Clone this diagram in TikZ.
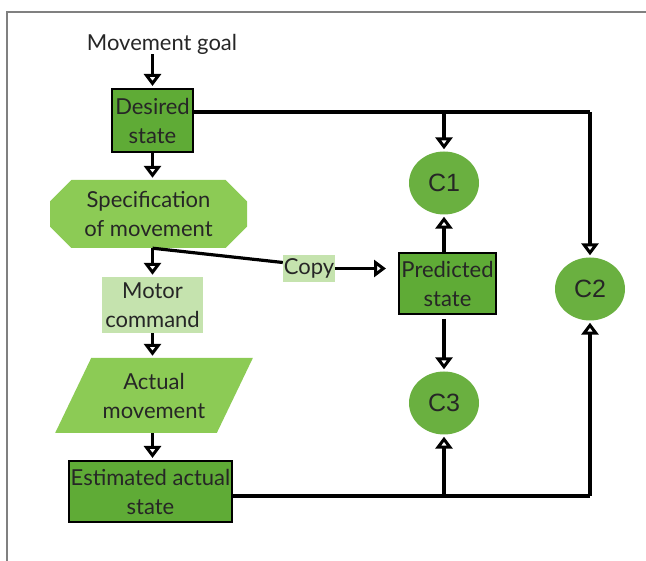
\documentclass[tikz,border=0pt]{standalone}
\usepackage{fontspec}
\setmainfont{Lato}
\newfontfamily\arialfont{Liberation Sans}
\usetikzlibrary{arrows.meta,shapes.geometric,shapes.misc}
\definecolor{darkgr}{HTML}{5FAB36}
\definecolor{circgr}{HTML}{6AB040}
\definecolor{midgr}{HTML}{8CCB55}
\definecolor{palegr}{HTML}{C5E3AE}
\begin{document}
\begin{tikzpicture}[x=1pt, y=-1pt,
    txt/.style={font=\fontsize{22}{29}\selectfont, align=center, inner sep=0pt, text=black!85},
    darkbox/.style={txt, draw, line width=2pt, fill=darkgr},
    circ/.style={ellipse, fill=circgr, minimum width=70pt, minimum height=63pt, inner sep=0pt,
      font=\arialfont\fontsize{25}{28}\selectfont, text=black!85},
    arr/.style={-{Triangle[open, width=17pt, length=12pt]}, line width=3.2pt, shorten >=2pt},
    wire/.style={line width=3.2pt}
  ]
  \useasboundingbox (0,0) rectangle (646,561);
  \draw[gray, line width=2.4pt] (7,561) -- (7,12) -- (646,12);

  \node[txt] (goal) at (162,44) {Movement goal};
  \node[darkbox, minimum width=81pt, minimum height=63pt] (desired) at (152.5,120.5) {Desired\\state};
  \node[txt, chamfered rectangle, chamfered rectangle xsep=18pt, fill=midgr,
    minimum width=197pt, minimum height=68pt] (spec) at (148.5,214) {Specification\\of movement};
  \node[txt, fill=palegr, minimum width=52pt, minimum height=27pt] (copy) at (309,268.5) {Copy};
  \node[txt, fill=palegr, minimum width=101pt, minimum height=56pt] (motor) at (152.5,305) {Motor\\command};
  \node[txt, trapezium, trapezium left angle=57, trapezium right angle=123, trapezium stretches=true,
    fill=midgr, minimum width=198pt, minimum height=75pt] (actual) at (154,395.5) {Actual\\movement};
  \node[darkbox, minimum width=163pt, minimum height=61pt] (est) at (150.5,491.5) {Estimated actual\\state};
  \node[darkbox, minimum width=97pt, minimum height=61pt] (pred) at (447.5,283.5) {Predicted\\state};
  \node[circ] (c1) at (444,183) {C1};
  \node[circ] (c2) at (590,289) {C2};
  \node[circ] (c3) at (444,403) {C3};

  \coordinate (tr) at (590,112);
  \coordinate (br) at (590,496);

  % main chain
  \draw[arr] (goal.south -| desired) -- (desired);
  \draw[arr] (desired) -- (desired |- spec.north);
  \draw[arr] (spec.south -| motor) -- (motor);
  \draw[arr] (motor) -- (actual.north -| motor);
  \draw[arr] (actual.south -| motor) -- (est.north -| motor);

  % efference copy
  \draw[wire] ([xshift=4pt]spec.south) -- ([yshift=6pt]copy.west);
  \draw[arr, shorten >=12pt] (copy) -- (copy -| pred.west);

  % comparators
  \draw[wire] (desired.east |- tr) -- (tr);
  \draw[arr] (c1 |- tr) -- (c1);
  \draw[arr] (tr) -- (c2);
  \draw[arr] (pred.north -| c1) -- (c1);
  \draw[arr, shorten <=4pt] (pred.south -| c3) -- (c3);
  \draw[wire] (est.east |- br) -- (br);
  \draw[arr] (c3 |- br) -- (c3);
  \draw[arr] (br) -- (c2);
\end{tikzpicture}
\end{document}
